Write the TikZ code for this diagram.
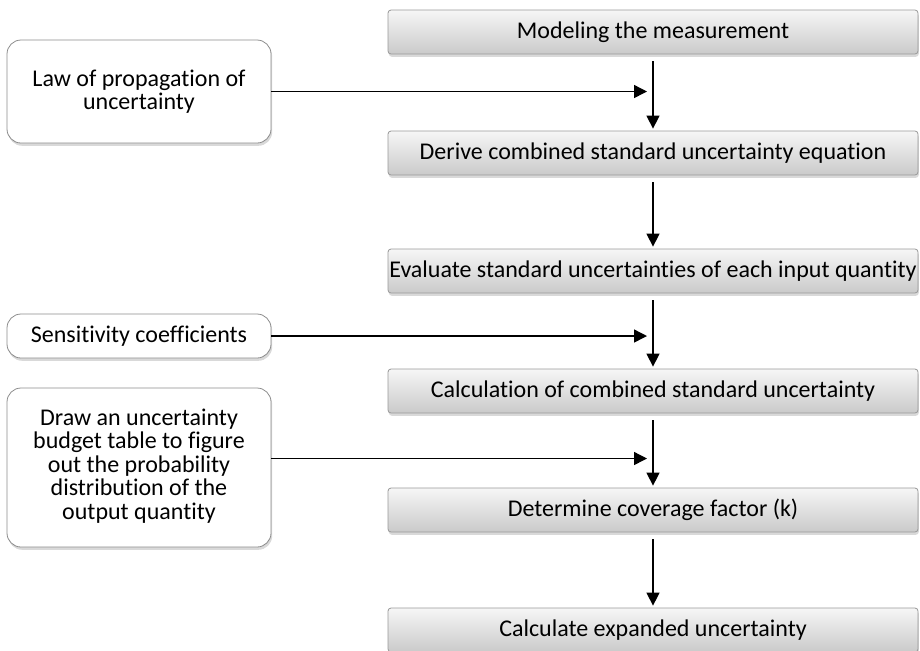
\documentclass[tikz,border=0pt]{standalone}
\usepackage{fontspec}
\setmainfont{Carlito}[Ligatures=NoCommon]
\usetikzlibrary{arrows.meta,shadows}
\definecolor{boxtop}{HTML}{F6F6F6}
\definecolor{boxbottom}{HTML}{CACACA}
\definecolor{boxline}{HTML}{999999}
\definecolor{noteline}{HTML}{8C8C8C}
\tikzset{
  stepbox/.style={draw=boxline, rounded corners=1.5pt, top color=boxtop, bottom color=boxbottom,
    minimum width=265pt, minimum height=22pt, inner sep=0pt,
    font=\fontsize{12}{13}\selectfont,
    drop shadow={shadow xshift=0.4pt, shadow yshift=-1.4pt, opacity=0.3}},
  notebox/.style={draw=noteline, fill=white, rounded corners=7pt, minimum width=132pt,
    inner sep=0pt, align=center, font=\fontsize{12}{11.5}\selectfont,
    drop shadow={shadow xshift=0.6pt, shadow yshift=-1.4pt, opacity=0.3}},
  flowarrow/.style={-{Triangle[length=6.5pt,width=6.5pt]}, line width=0.7pt}
}
\begin{document}
\begin{tikzpicture}[x=0.5pt,y=-0.5pt]
    \useasboundingbox (0,0) rectangle (920,650);

    % Main steps
    \node[stepbox] (model)   at (653,32)  {Modeling the measurement};
    \node[stepbox] (derive)  at (653,153) {Derive combined standard uncertainty equation};
    \node[stepbox] (evaluate) at (653,271) {Evaluate standard uncertainties of each input quantity};
    \node[stepbox] (combine) at (653,391) {Calculation of combined standard uncertainty};
    \node[stepbox] (coverage) at (653,510) {Determine coverage factor (k)};
    \node[stepbox] (expand)  at (653,630) {Calculate expanded uncertainty};

    % Inputs on the left
    \node[notebox, minimum height=51.5pt] (law)    at (139,91.5) {Law of propagation of\\uncertainty};
    \node[notebox, minimum height=22pt]   (sens)   at (139,336)  {Sensitivity coefficients};
    \node[notebox, minimum height=79.5pt] (budget) at (139,467.5)
        {\raisebox{7pt}{\begin{tabular}{@{}c@{}}Draw an uncertainty\\budget table to figure\\out the probability\\distribution of the\\output quantity\end{tabular}}};

    % Flow between steps
    \foreach \a/\b in {model/derive, derive/evaluate, evaluate/combine, combine/coverage, coverage/expand}
        \draw[flowarrow, shorten <=3.5pt, shorten >=1pt] (\a.south) -- (\b.north);

    % Inputs into the flow
    \draw[flowarrow, shorten >=3pt] (law.east) -- (law.east -| model.south);
    \draw[flowarrow, shorten >=3pt] (sens.east) -- (sens.east -| model.south);
    \draw[flowarrow, shorten >=3pt] ([yshift=4.5pt]budget.east) -- ([yshift=4.5pt]budget.east -| model.south);
\end{tikzpicture}
\end{document}
